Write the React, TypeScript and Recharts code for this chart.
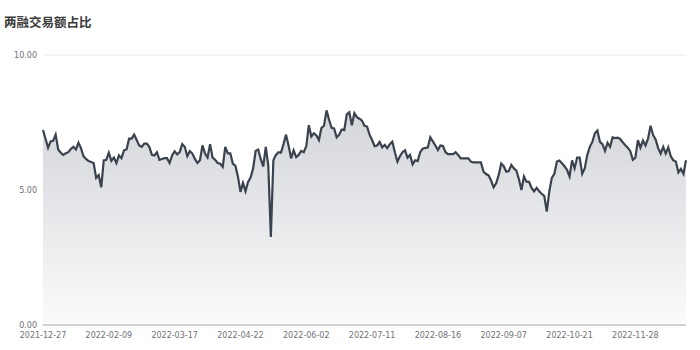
import { Area, AreaChart, CartesianGrid, XAxis, YAxis } from 'recharts';

const title = '两融交易额占比';

// tick labels, one every 26 points
const tickLabels = [
  '2021-12-27', '2022-02-09', '2022-03-17', '2022-04-22', '2022-06-02',
  '2022-07-11', '2022-08-16', '2022-09-07', '2022-10-21', '2022-11-28',
];
const tickStep = 26;

const yTicks = [0, 5, 10];

const values = [
  7.22, 6.9, 6.56, 6.8, 6.82, 7.05, 6.5, 6.38, 6.3, 6.36,
  6.4, 6.52, 6.6, 6.5, 6.75, 6.55, 6.25, 6.15, 6.07, 6.04,
  6.0, 5.45, 5.55, 5.1, 6.1, 6.12, 6.38, 6.08, 6.2, 6.0,
  6.28, 6.18, 6.47, 6.5, 6.9, 6.9, 7.05, 6.85, 6.65, 6.6,
  6.72, 6.72, 6.6, 6.3, 6.28, 6.4, 6.12, 6.15, 6.18, 6.18,
  6.0, 6.28, 6.43, 6.32, 6.4, 6.7, 6.6, 6.25, 6.44, 6.35,
  6.15, 6.0, 6.1, 6.65, 6.35, 6.2, 6.7, 6.2, 6.12, 6.0,
  5.97, 5.86, 6.6, 6.36, 6.36, 5.97, 5.9, 5.5, 4.93, 5.26,
  4.95, 5.3, 5.46, 5.8, 6.45, 6.5, 6.15, 5.87, 6.6, 5.9,
  3.26, 6.1, 6.3, 6.4, 6.38, 6.7, 7.05, 6.65, 6.17, 6.47,
  6.22, 6.3, 6.45, 6.4, 6.62, 7.4, 6.98, 7.1, 7.02, 6.85,
  7.3, 7.38, 7.95, 7.6, 7.3, 7.28, 6.95, 7.05, 7.24, 7.22,
  7.8, 7.88, 7.4, 7.85, 7.7, 7.64, 7.57, 7.38, 7.35, 7.05,
  6.85, 6.62, 6.65, 6.78, 6.58, 6.67, 6.55, 6.7, 6.79, 6.4,
  6.05, 6.25, 6.4, 6.47, 6.2, 6.3, 5.95, 6.1, 6.07, 6.4,
  6.53, 6.56, 6.57, 6.95, 6.8, 6.65, 6.48, 6.65, 6.63, 6.4,
  6.33, 6.33, 6.33, 6.4, 6.3, 6.17, 6.17, 6.17, 6.17, 6.05,
  6.02, 6.02, 6.02, 6.02, 5.68, 5.59, 5.54, 5.35, 5.1, 5.25,
  5.55, 5.98, 5.88, 5.68, 5.7, 5.93, 5.8, 5.72, 5.4, 5.0,
  5.5, 5.31, 5.3, 5.08, 4.95, 5.08, 4.95, 4.86, 4.78, 4.2,
  4.95, 5.45, 5.6, 6.05, 6.09, 5.99, 5.88, 5.75, 5.5, 6.1,
  5.8, 6.2, 6.2, 5.6, 5.8, 6.3, 6.6, 6.78, 7.1, 7.2,
  6.78, 6.7, 6.45, 6.75, 6.6, 6.95, 6.92, 6.94, 6.89, 6.77,
  6.66, 6.57, 6.44, 6.12, 6.2, 6.85, 6.57, 6.83, 6.65, 6.9,
  7.38, 7.04, 6.87, 6.55, 6.35, 6.6, 6.35, 6.58, 6.25, 6.1,
  6.05, 5.65, 5.78, 5.6, 6.1,
];

const data = values.map((v, i) => ({ i, v }));
const xTicks = tickLabels.map((_, k) => k * tickStep);

const axisText = { fill: '#6e7079', fontSize: 8, fontFamily: 'DejaVu Sans' };

export default function App() {
  return (
    <div style={{ position: 'absolute', left: 0, top: 0, width: 700, height: 350, background: '#fff' }}>
      <div
        style={{
          position: 'absolute',
          left: 4,
          top: 14,
          fontFamily: '"Noto Sans CJK SC"',
          fontWeight: 700,
          fontSize: 12.5,
          lineHeight: '16px',
          color: '#3a3a3a',
        }}
      >
        {title}
      </div>
      <AreaChart width={700} height={350} data={data} margin={{ top: 55, right: 14, left: 3, bottom: 0 }}>
        <defs>
          <linearGradient id="fillGray" x1="0" y1="0" x2="0" y2="1">
            <stop offset="0%" stopColor="#d3d5d9" />
            <stop offset="100%" stopColor="#fbfbfc" />
          </linearGradient>
        </defs>
        <CartesianGrid stroke="#e6eaf2" vertical={false} />
        <XAxis
          type="number"
          dataKey="i"
          domain={[0, values.length - 1]}
          ticks={xTicks}
          tickFormatter={(i: number) => tickLabels[i / tickStep]}
          interval={0}
          tickLine={false}
          tickSize={0}
          tickMargin={7}
          height={25}
          stroke="#a9abb0"
          tick={axisText}
        />
        <YAxis
          domain={[0, 10]}
          ticks={yTicks}
          tickFormatter={(v: number) => v.toFixed(2)}
          axisLine={false}
          tickLine={false}
          tickSize={0}
          tickMargin={6}
          width={40}
          tick={axisText}
        />
        <Area
          type="linear"
          dataKey="v"
          stroke="#3a424e"
          strokeWidth={2.2}
          fill="url(#fillGray)"
          fillOpacity={1}
          dot={false}
          activeDot={false}
          isAnimationActive={false}
        />
      </AreaChart>
    </div>
  );
}
